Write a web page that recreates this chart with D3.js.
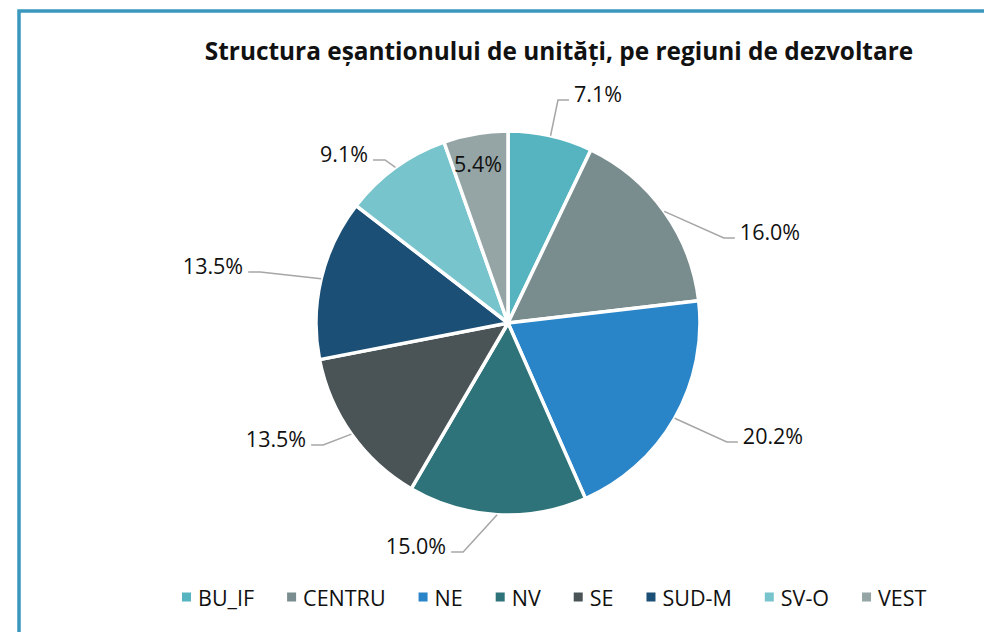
<!DOCTYPE html>
<html>
<head>
<meta charset="utf-8">
<script src="https://cdn.jsdelivr.net/npm/d3@7"></script>
<style>
  html, body { margin: 0; padding: 0; background: #ffffff; }
  svg { display: block; }
  text { font-family: "Open Sans", "DejaVu Sans", sans-serif; }
</style>
</head>
<body>
<div id="chart"></div>
<script>
// ---- data ----
const title = "Structura eșantionului de unități, pe regiuni de dezvoltare";
const categories = ["BU_IF", "CENTRU", "NE", "NV", "SE", "SUD-M", "SV-O", "VEST"];
const values = [7.1, 16.0, 20.2, 15.0, 13.5, 13.5, 9.1, 5.4];
const colors = ["#56b4c0", "#798c8e", "#2984c8", "#2d7379", "#4a5456", "#1b4f76", "#78c4cc", "#95a4a5"];

// ---- layout (label text centers relative to pie centre, px) ----
const labelOffsets = [[90, -230], [262, -92], [265, 112], [-92, 222], [-232, 115], [-295, -58], [-164, -170], [-30, -160]];
const insideLabel = [false, false, false, false, false, false, false, true];

const W = 984, H = 632;
const cx = 508, cy = 323, R = 192;

const svg = d3.select("#chart").append("svg").attr("width", W).attr("height", H);

// chart frame (extends beyond the right/bottom edges)
svg.append("rect")
  .attr("x", 19).attr("y", 11)
  .attr("width", 1100).attr("height", 700)
  .attr("fill", "none")
  .attr("stroke", "#3a98be")
  .attr("stroke-width", 3.5);

// title
svg.append("text")
  .attr("x", 559).attr("y", 60)
  .attr("text-anchor", "middle")
  .attr("font-size", 24.4)
  .attr("font-weight", 700)
  .attr("fill", "#111")
  .text(title);

const data = categories.map((c, i) => ({ cat: c, value: values[i], color: colors[i], i }));

const pie = d3.pie().value(d => d.value).sort(null);
const arcs = pie(data);
const arc = d3.arc().innerRadius(0).outerRadius(R);

const g = svg.append("g").attr("transform", `translate(${cx},${cy})`);

g.selectAll("path.slice")
  .data(arcs)
  .join("path")
  .attr("class", "slice")
  .attr("d", arc)
  .attr("fill", d => d.data.color)
  .attr("stroke", "#ffffff")
  .attr("stroke-width", 3.5)
  .attr("stroke-linejoin", "round");

const fmt = d3.format(".1f");

// labels + leader lines
arcs.forEach((a, k) => {
  const off = labelOffsets[k];
  const txt = fmt(a.data.value) + "%";
  const t = g.append("text")
    .attr("x", off[0]).attr("y", off[1])
    .attr("text-anchor", "middle")
    .attr("dominant-baseline", "central")
    .attr("font-size", 21.5)
    .attr("fill", "#111")
    .text(txt);
  if (insideLabel[k]) return;
  const tw = t.node().getComputedTextLength();
  const mid = (a.startAngle + a.endAngle) / 2;
  const px = R * Math.sin(mid), py = -R * Math.cos(mid);
  const ly = off[1] + 7;
  let endX, elbowX;
  if (off[0] > px) {
    endX = off[0] - tw / 2 - 5;
    elbowX = endX - 11;
  } else {
    endX = off[0] + tw / 2 + 5;
    elbowX = endX + 12;
  }
  g.append("polyline")
    .attr("points", `${px},${py} ${elbowX},${ly} ${endX},${ly}`)
    .attr("fill", "none")
    .attr("stroke", "#a6a6a6")
    .attr("stroke-width", 1.5);
});

// legend
const legend = svg.append("g");
let lx = 0;
data.forEach(d => {
  const it = legend.append("g");
  it.append("rect").attr("x", 0).attr("y", -4.5).attr("width", 9).attr("height", 9).attr("fill", d.color);
  const t = it.append("text").attr("x", 16).attr("y", 0)
    .attr("dominant-baseline", "central")
    .attr("font-size", 21.5)
    .attr("fill", "#111")
    .text(d.cat);
  const w = 16 + t.node().getComputedTextLength();
  it.attr("transform", `translate(${lx},0)`);
  lx += w + 33;
});
legend.attr("transform", `translate(${182},597)`);
</script>
</body>
</html>
